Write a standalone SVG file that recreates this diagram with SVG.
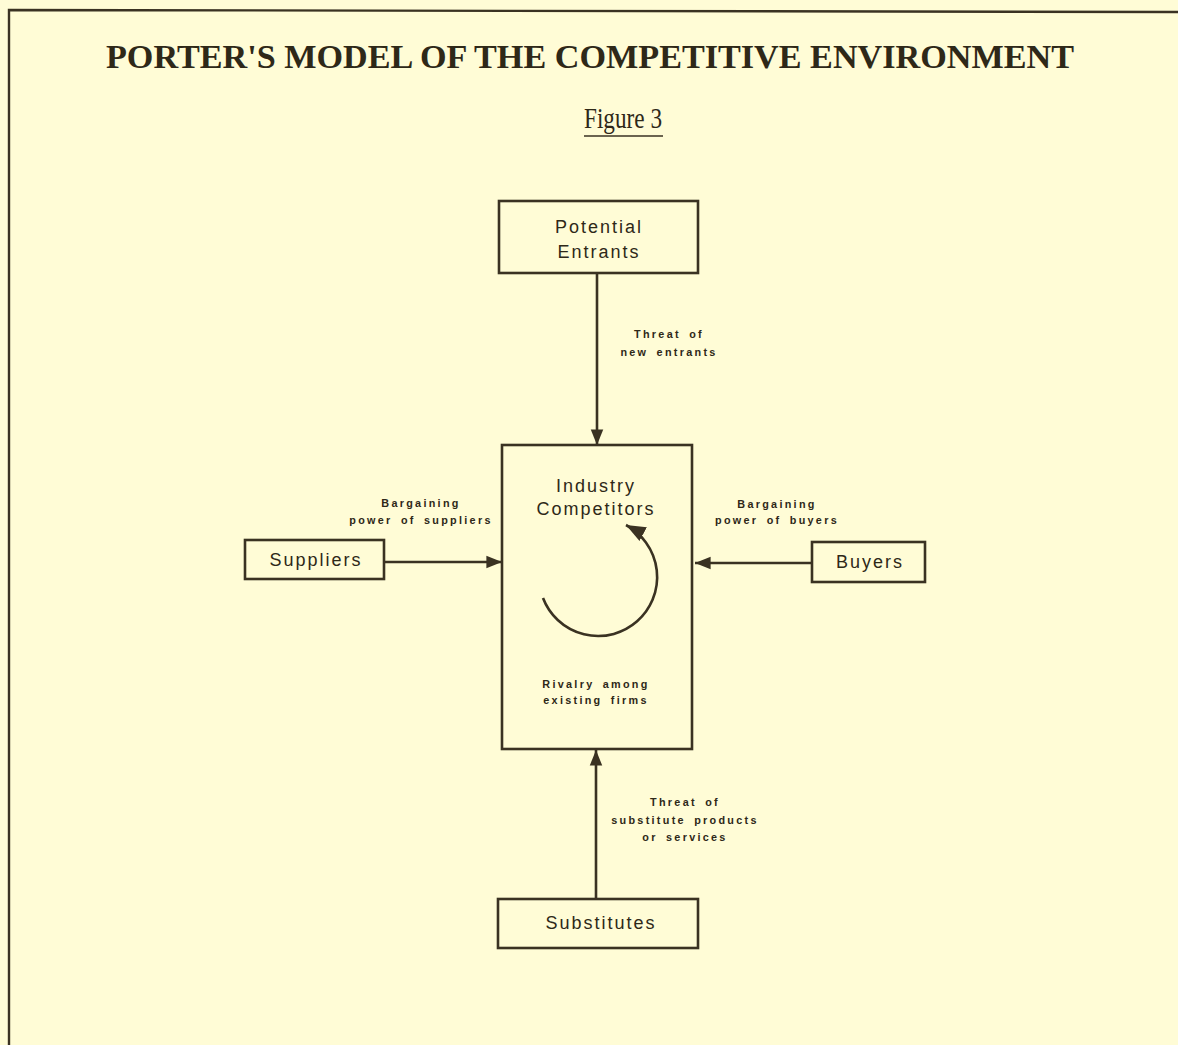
<svg xmlns="http://www.w3.org/2000/svg" width="1178" height="1045" viewBox="0 0 1178 1045">
<style>
.box{fill:none;stroke:#3a3222;stroke-width:2.6}
.ln{fill:none;stroke:#3a3222;stroke-width:2.6}
.big{font-family:"Liberation Sans",Arial,sans-serif;font-size:18px;fill:#2e2818;letter-spacing:2px;text-anchor:middle}
.sm{font-family:"Liberation Sans",Arial,sans-serif;font-size:10.8px;font-weight:bold;fill:#2e2818;letter-spacing:2.3px;word-spacing:3px;text-anchor:middle}
.title{font-family:"Liberation Serif","Times New Roman",serif;fill:#2e2818;text-anchor:middle}
</style>
<defs>
<marker id="ah" viewBox="0 0 10 10" refX="10" refY="5" markerWidth="6" markerHeight="6" markerUnits="strokeWidth" orient="auto">
<path d="M0,1 L10,5 L0,9 z" fill="#3a3222"/>
</marker>
<marker id="ahc" viewBox="0 0 10 10" refX="10" refY="5" markerWidth="7.5" markerHeight="7.5" markerUnits="strokeWidth" orient="auto">
<path d="M0,1 L10,5 L0,9 z" fill="#3a3222"/>
</marker>
</defs>
<rect width="1178" height="1045" fill="#fffcd6"/>
<path d="M9 1045 V10 L1178 12" fill="none" stroke="#3a3222" stroke-width="2.4"/>
<g id="title">
<text class="title" x="590" y="68" font-size="33" font-weight="bold" textLength="968" lengthAdjust="spacingAndGlyphs">PORTER'S MODEL OF THE COMPETITIVE ENVIRONMENT</text>
<text class="title" x="623" y="128" font-size="29" textLength="78" lengthAdjust="spacingAndGlyphs">Figure 3</text>
<line x1="584" y1="136" x2="663" y2="136" stroke="#3a3222" stroke-width="1.6"/>
</g>
<g id="connectors">
<line class="ln" x1="597" y1="273" x2="597" y2="445" marker-end="url(#ah)"/>
<line class="ln" x1="384" y1="562" x2="502" y2="562" marker-end="url(#ah)"/>
<line class="ln" x1="812" y1="563" x2="695" y2="563" marker-end="url(#ah)"/>
<line class="ln" x1="596" y1="899" x2="596" y2="750" marker-end="url(#ah)"/>
<path class="ln" d="M543 598 A59 59 0 1 0 626 525" marker-end="url(#ahc)"/>
</g>
<g id="potential-entrants">
<rect class="box" x="499" y="201" width="199" height="72"/>
<text class="big" x="599" y="233">Potential</text>
<text class="big" x="599" y="258">Entrants</text>
</g>
<g id="industry-competitors">
<rect class="box" x="502" y="445" width="190" height="304"/>
<text class="big" x="596" y="492">Industry</text>
<text class="big" x="596" y="515">Competitors</text>
<text class="sm" x="596" y="688">Rivalry among</text>
<text class="sm" x="596" y="704">existing firms</text>
</g>
<g id="suppliers">
<rect class="box" x="245" y="540" width="139" height="39"/>
<text class="big" x="316" y="566">Suppliers</text>
</g>
<g id="buyers">
<rect class="box" x="812" y="542" width="113" height="40"/>
<text class="big" x="870" y="568">Buyers</text>
</g>
<g id="substitutes">
<rect class="box" x="498" y="899" width="200" height="49"/>
<text class="big" x="601" y="929">Substitutes</text>
</g>
<g id="labels">
<text class="sm" x="669" y="338">Threat of</text>
<text class="sm" x="669" y="356">new entrants</text>
<text class="sm" x="421" y="507">Bargaining</text>
<text class="sm" x="421" y="524">power of suppliers</text>
<text class="sm" x="777" y="508">Bargaining</text>
<text class="sm" x="777" y="524">power of buyers</text>
<text class="sm" x="685" y="806">Threat of</text>
<text class="sm" x="685" y="824">substitute products</text>
<text class="sm" x="685" y="841">or services</text>
</g>
</svg>
